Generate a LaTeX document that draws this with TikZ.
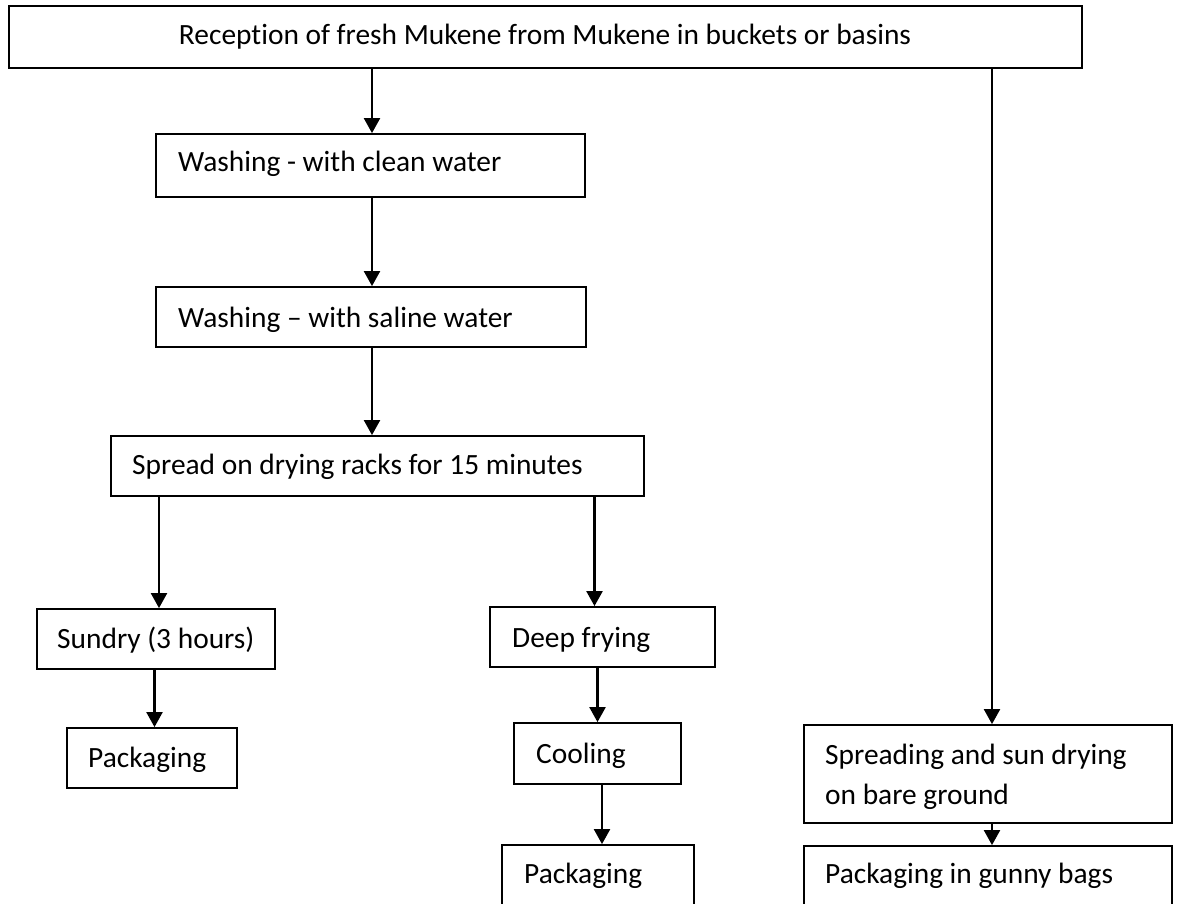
\documentclass[tikz,border=0pt]{standalone}
\usepackage{fontspec}
\setmainfont{Carlito}[Ligatures={TeX,NoCommon}]
\usetikzlibrary{arrows.meta,calc}
\tikzset{
  box/.style={draw, line width=1.8pt, rectangle, inner sep=0pt},
  lbl/.style={anchor=base west, inner sep=0pt, font=\fontsize{29.4}{35}\selectfont},
  arr/.style={-{Triangle[width=16pt,length=15pt]}, line width=2.2pt}
}
\begin{document}
\begin{tikzpicture}[x=1pt,y=-1pt]
\path[use as bounding box, fill=white] (0,0) rectangle (1178,904);
\clip (0,0) rectangle (1178,904);
% boxes
\node[box, minimum width=1073pt, minimum height=62pt] (top) at (545.5,37) {};
\node[box, minimum width=429pt, minimum height=63pt] (w1) at (370.5,165.5) {};
\node[box, minimum width=430pt, minimum height=60pt] (w2) at (371,317) {};
\node[box, minimum width=533pt, minimum height=60pt] (spread) at (377.5,466) {};
\node[box, minimum width=238pt, minimum height=60pt] (sundry) at (156,639) {};
\node[box, minimum width=170pt, minimum height=60pt] (pack1) at (152,758) {};
\node[box, minimum width=225pt, minimum height=60pt] (deep) at (602.5,637) {};
\node[box, minimum width=167pt, minimum height=61pt] (cool) at (597.5,753.5) {};
\node[box, minimum width=192pt, minimum height=75pt] (pack2) at (598,882.5) {};
\node[box, minimum width=368pt, minimum height=98pt] (spreading) at (988,774) {};
\node[box, minimum width=368pt, minimum height=74pt] (gunny) at (988,883) {};
% texts
\node[lbl, anchor=base] (ttop) at (545,45) {Reception of fresh Mukene from Mukene in buckets or basins};
\node[lbl] (tw1) at (178,172) {Washing - with clean water};
\node[lbl] (tw2) at (178,327) {Washing – with saline water};
\node[lbl] (tspread) at (132,474) {Spread on drying racks for 15 minutes};
\node[lbl] (tsundry) at (57,648) {Sundry (3 hours)};
\node[lbl] (tpack1) at (88,767) {Packaging};
\node[lbl] (tdeep) at (512,647) {Deep frying};
\node[lbl] (tcool) at (536,763) {Cooling};
\node[lbl] (tpack2) at (524,883) {Packaging};
\node[lbl] (tspr1) at (825,764) {Spreading and sun drying};
\node[lbl] (tspr2) at (825,804) {on bare ground};
\node[lbl] (tgunny) at (825,883) {Packaging in gunny bags};
% connectors
\draw[arr] ($(w1.north|-top.south)+(1.5,0)$) -- ($(w1.north)+(1.5,0)$);
\draw[arr] ($(w1.south)+(1.5,0)$) -- ($(w2.north)+(1,0)$);
\draw[arr] ($(w2.south)+(1,0)$) -- ($(spread.north)+(-5.5,0)$);
\draw[arr] ($(sundry.north|-spread.south)+(3,0)$) -- ($(sundry.north)+(3,0)$);
\draw[arr] ($(sundry.south)+(-1.5,0)$) -- ($(pack1.north)+(2.5,0)$);
\draw[arr] ($(deep.north|-spread.south)+(-8,0)$) -- ($(deep.north)+(-8,0)$);
\draw[arr] (cool.north|-deep.south) -- (cool.north);
\draw[arr] ($(cool.south)+(4.5,0)$) -- ($(pack2.north)+(4,0)$);
\draw[arr] ($(spreading.north|-top.south)+(4,0)$) -- ($(spreading.north)+(4,0)$);
\draw[arr] ($(spreading.south)+(4,0)$) -- ($(gunny.north)+(4,0)$);
\end{tikzpicture}
\end{document}
